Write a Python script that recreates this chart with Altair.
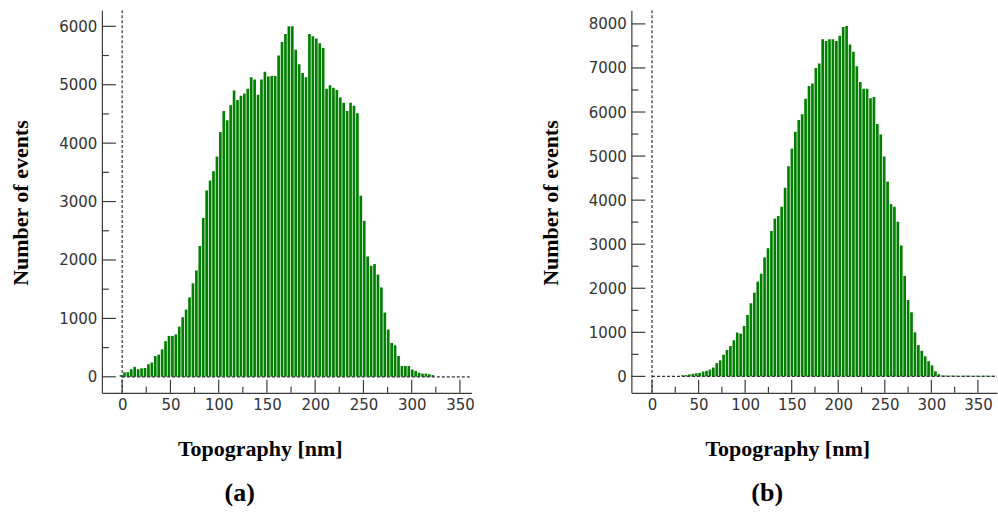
import altair as alt
import pandas as pd

# ---- Histogram (a): event counts per topography bin ----
A_FIRST_CENTER = -1.2      # nm, centre of the first bin
A_BIN_WIDTH = 3.55         # nm
A_COUNTS = [
    30, 75, 80, 130, 170, 130, 145, 150, 215, 245,
    355, 380, 470, 610, 700, 700, 725, 860, 1020, 1150,
    1360, 1600, 1820, 2240, 2720, 3190, 3360, 3520, 3770, 4190,
    4550, 4390, 4650, 4900, 4740, 4810, 4850, 4930, 5130, 5090,
    4830, 5090, 5220, 5140, 5150, 5150, 5500, 5730, 5870, 6000,
    6000, 5600, 5350, 5200, 5130, 5870, 5830, 5790, 5710, 5630,
    4930, 4990, 4950, 4910, 4780, 4690, 4550, 4690, 4640, 4510,
    3100, 2670, 2060, 1900, 1930, 1750, 1530, 1100, 810, 580,
    540, 355, 185, 185, 185, 125, 100, 70, 55, 55,
    45, 30,
]

# ---- Histogram (b) ----
B_FIRST_CENTER = 32.8
B_BIN_WIDTH = 3.67
B_COUNTS = [
    25, 30, 45, 60, 70, 80, 110, 125, 155, 200,
    300, 365, 490, 600, 690, 820, 995, 970, 1145, 1395,
    1660, 1900, 2150, 2330, 2700, 2910, 3300, 3580, 3640, 3850,
    4280, 4770, 5170, 5550, 5820, 5950, 6300, 6590, 6650, 7000,
    7100, 7650, 7610, 7650, 7650, 7610, 7730, 7930, 7950, 7530,
    7370, 7040, 6680, 6530, 6530, 6310, 6340, 5730, 5490, 4990,
    4420, 3910, 3850, 3510, 2970, 2280, 1735, 1455, 1000, 710,
    580, 455, 345, 250, 115, 50,
    20, 18, 15, 18, 15, 12, 15, 18, 15, 12, 15, 12, 15, 15, 12, 15,
]

X_MAJOR = [0, 50, 100, 150, 200, 250, 300, 350]
X_MINOR = [25, 75, 125, 175, 225, 275, 325]
A_Y_MAJOR = [0, 1000, 2000, 3000, 4000, 5000, 6000]
A_Y_MINOR = [500, 1500, 2500, 3500, 4500, 5500]
B_Y_MAJOR = [0, 1000, 2000, 3000, 4000, 5000, 6000, 7000, 8000]
B_Y_MINOR = [500, 1500, 2500, 3500, 4500, 5500, 6500, 7500]

GREEN = "#007f00"
AXIS = "#3c3c3c"
LABEL_FONT = "DejaVu Sans"
TITLE_FONT = "Liberation Serif"


def histogram(first_center, bin_width, counts, x_dom, y_dom, y_major, y_minor,
              tag, width, height):
    half = bin_width * 0.39
    centers = [first_center + bin_width * i for i in range(len(counts))]
    bars_df = pd.DataFrame({
        "x0": [c - half for c in centers],
        "x1": [c + half for c in centers],
        "count": counts,
    })
    xs = alt.Scale(domain=x_dom, nice=False, zero=False)
    ys = alt.Scale(domain=y_dom, nice=False, zero=False)

    x_axis = alt.Axis(
        values=X_MAJOR, ticks=False, grid=False, format="d",
        domainColor=AXIS, domainWidth=1.2,
        labelFont=LABEL_FONT, labelFontSize=15, labelColor="#333333",
        labelPadding=5, labelFlush=False,
        title="Topography [nm]", titleFont=TITLE_FONT, titleFontSize=22,
        titleFontWeight="bold", titleColor="black",
        titleX=width / 2 - 27, titleY=63, titleBaseline="alphabetic",
        titleAlign="center",
    )
    y_axis = alt.Axis(
        values=y_major, ticks=False, grid=False, format="d",
        domainColor=AXIS, domainWidth=1.2,
        labelFont=LABEL_FONT, labelFontSize=15, labelColor="#333333",
        labelPadding=5, labelFlush=False,
        title="Number of events", titleFont=TITLE_FONT, titleFontSize=22,
        titleFontWeight="bold", titleColor="black",
        titleX=-74, titleY=height / 2 + 1, titleBaseline="alphabetic",
        titleAlign="center",
    )

    bars = alt.Chart(bars_df).mark_rect(color=GREEN).encode(
        x=alt.X("x0:Q", scale=xs, axis=x_axis),
        x2="x1:Q",
        y=alt.Y("count:Q", scale=ys, axis=y_axis),
        y2=alt.datum(0),
    )

    zero_df = pd.DataFrame({"v": [0.0], "end": [x_dom[1]]})
    v_dash = alt.Chart(zero_df).mark_rule(
        color="#333333", strokeDash=[3, 2], strokeWidth=1.2
    ).encode(
        x=alt.X("v:Q", scale=xs, axis=x_axis),
        y=alt.value(0), y2=alt.value(height),
    )
    h_dash = alt.Chart(zero_df).mark_rule(
        color="#333333", strokeDash=[3, 2], strokeWidth=1.2
    ).encode(
        x=alt.X("v:Q", scale=xs, axis=x_axis), x2="end:Q",
        y=alt.Y("v:Q", scale=ys, axis=y_axis),
    )

    def y_ticks(vals, length):
        return alt.Chart(pd.DataFrame({"v": vals})).mark_rule(
            color=AXIS, strokeWidth=1.2
        ).encode(
            y=alt.Y("v:Q", scale=ys, axis=y_axis),
            x=alt.value(0), x2=alt.value(length),
        )

    def x_ticks(vals, length):
        return alt.Chart(pd.DataFrame({"v": vals})).mark_rule(
            color=AXIS, strokeWidth=1.2
        ).encode(
            x=alt.X("v:Q", scale=xs, axis=x_axis),
            y=alt.value(height), y2=alt.value(height - length),
        )

    return alt.layer(
        bars, h_dash, v_dash,
        y_ticks(y_major, 14), y_ticks(y_minor, 7),
        x_ticks(X_MAJOR, 13), x_ticks(X_MINOR, 6),
    ).properties(
        width=width, height=height,
        title=alt.TitleParams(
            tag, orient="bottom", font=TITLE_FONT, fontSize=26,
            fontWeight="bold", color="black", dx=-47, offset=20,
        ),
    )


left = histogram(A_FIRST_CENTER, A_BIN_WIDTH, A_COUNTS, [-21, 362],
                 [-275, 6275], A_Y_MAJOR, A_Y_MINOR, "(a)", 370, 383)
right = histogram(B_FIRST_CENTER, B_BIN_WIDTH, B_COUNTS, [-22.2, 370.5],
                  [-374, 8310], B_Y_MAJOR, B_Y_MINOR, "(b)", 366, 383)

chart = alt.hconcat(left, right, spacing=160, bounds="flush").properties(
    padding={"left": 10, "top": 9, "right": 0, "bottom": 0},
    background="white",
).configure_view(stroke=None)

chart.save("out.html", embed_options={"renderer": "svg", "actions": False})
